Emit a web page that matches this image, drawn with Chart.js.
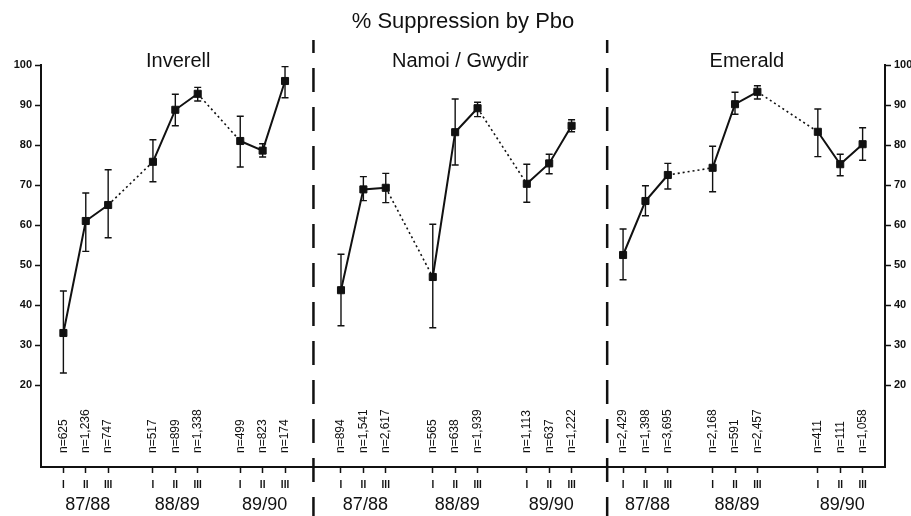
<!DOCTYPE html>
<html>
<head>
<meta charset="utf-8">
<script src="https://cdn.jsdelivr.net/npm/chart.js@4.4.0/dist/chart.umd.min.js"></script>
<style>
  body { margin: 0; background: #fff; }
  canvas { display: block; }
</style>
</head>
<body>
<canvas id="chart" width="911" height="516"></canvas>
<script>
const chartTitle = '% Suppression by Pbo';
const regions = ['Inverell', 'Namoi / Gwydir', 'Emerald'];
const seasons = ['87/88', '88/89', '89/90'];
const sampleLabels = ['I', 'II', 'III'];
const yTicks = [20, 30, 40, 50, 60, 70, 80, 90, 100];

// sampling order along the time axis (three samplings per season)
const posInverell = [1, 2, 3, 5, 6, 7, 8.9, 9.9, 10.9];
const posNamoi = [13.4, 14.4, 15.4, 17.5, 18.5, 19.5, 21.7, 22.7, 23.7];
const posEmerald = [26, 27, 28, 30, 31, 32, 34.7, 35.7, 36.7];
const regionBreaks = [12.17, 25.29];

const supInverell = [33, 61, 65, 75.8, 88.8, 92.8, 81, 78.6, 96];
const hiInverell = [43.5, 68, 73.8, 81.3, 92.7, 94.4, 87.2, 80.3, 99.6];
const loInverell = [23, 53.4, 56.8, 70.8, 84.8, 91, 74.5, 77, 91.8];
const nInverell = ['n=625', 'n=1,236', 'n=747', 'n=517', 'n=899', 'n=1,338', 'n=499', 'n=823', 'n=174'];

const supNamoi = [43.7, 68.9, 69.3, 47, 83.2, 89.2, 70.3, 75.4, 84.8];
const hiNamoi = [52.7, 72.1, 72.9, 60.2, 91.5, 90.7, 75.2, 77.7, 86.3];
const loNamoi = [34.8, 66.1, 65.6, 34.3, 75, 87.1, 65.7, 72.8, 83.3];
const nNamoi = ['n=894', 'n=1,541', 'n=2,617', 'n=565', 'n=638', 'n=1,939', 'n=1,113', 'n=637', 'n=1,222'];

const supEmerald = [52.5, 66, 72.5, 74.3, 90.2, 93.3, 83.3, 75.2, 80.2];
const hiEmerald = [59, 69.8, 75.4, 79.7, 93.2, 94.8, 89, 77.7, 84.3];
const loEmerald = [46.3, 62.3, 69, 68.3, 87.7, 91.5, 77.1, 72.3, 76.2];
const nEmerald = ['n=2,429', 'n=1,398', 'n=3,695', 'n=2,168', 'n=591', 'n=2,457', 'n=411', 'n=111', 'n=1,058'];

const ink = '#111';
const font = '"Liberation Sans", Arial, Helvetica, sans-serif';

const pack = (pos, sup, hi, lo, n) =>
  pos.map((x, i) => ({ x: x, y: sup[i], hi: hi[i], lo: lo[i], n: n[i] }));

const regionData = [
  pack(posInverell, supInverell, hiInverell, loInverell, nInverell),
  pack(posNamoi, supNamoi, hiNamoi, loNamoi, nNamoi),
  pack(posEmerald, supEmerald, hiEmerald, loEmerald, nEmerald),
];
const allPos = [...posInverell, ...posNamoi, ...posEmerald];

const makeDataset = (label, data) => ({
  label: label,
  data: data,
  borderColor: ink,
  backgroundColor: ink,
  borderWidth: 2,
  pointStyle: 'rect',
  pointRadius: 5,
  pointBorderWidth: 1,
  tension: 0,
  segment: {
    // between seasons the line is dotted
    borderDash: c => (c.p0DataIndex % 3 === 2 ? [2, 3] : undefined),
    borderWidth: c => (c.p0DataIndex % 3 === 2 ? 1.6 : 2),
  },
});

const annotate = {
  id: 'annotate',
  afterDatasetsDraw(chart) {
    const { ctx, scales: { x, y } } = chart;
    ctx.save();
    ctx.strokeStyle = ink;
    ctx.lineWidth = 1.4;
    regionData.forEach(pts => pts.forEach(p => {
      const px = x.getPixelForValue(p.x);
      const top = y.getPixelForValue(p.hi);
      const bot = y.getPixelForValue(p.lo);
      ctx.beginPath();
      ctx.moveTo(px, top); ctx.lineTo(px, bot);
      ctx.moveTo(px - 3.5, top); ctx.lineTo(px + 3.5, top);
      ctx.moveTo(px - 3.5, bot); ctx.lineTo(px + 3.5, bot);
      ctx.stroke();
    }));
    ctx.restore();
  },
  afterDraw(chart) {
    const { ctx, chartArea, scales: { x } } = chart;
    ctx.save();
    ctx.fillStyle = ink;
    ctx.textAlign = 'center';
    ctx.textBaseline = 'middle';

    ctx.font = '22px ' + font;
    ctx.fillText(chartTitle, (chartArea.left + chartArea.right) / 2, 22);

    // region names, seasons
    regionData.forEach((pts, r) => {
      const first = x.getPixelForValue(pts[0].x);
      const last = x.getPixelForValue(pts[pts.length - 1].x);
      ctx.font = '20px ' + font;
      ctx.fillText(regions[r], (first + last) / 2 + 4, 61);
      ctx.font = '18px ' + font;
      seasons.forEach((s, k) => {
        const g = pts.slice(k * 3, k * 3 + 3);
        const mid = g.reduce((a, p) => a + x.getPixelForValue(p.x), 0) / g.length;
        ctx.fillText(s, mid + 2, 505);
      });
    });

    // sample sizes, written upwards
    ctx.font = '12px ' + font;
    ctx.textAlign = 'left';
    regionData.forEach(pts => pts.forEach(p => {
      ctx.save();
      ctx.translate(x.getPixelForValue(p.x), chartArea.bottom - 14);
      ctx.rotate(-Math.PI / 2);
      ctx.fillText(p.n, 0, 0);
      ctx.restore();
    }));

    // dashed region separators
    ctx.strokeStyle = ink;
    ctx.lineWidth = 2.5;
    ctx.setLineDash([24, 15]);
    ctx.lineDashOffset = 11;
    regionBreaks.forEach(b => {
      const px = x.getPixelForValue(b);
      ctx.beginPath();
      ctx.moveTo(px, 40);
      ctx.lineTo(px, chart.height);
      ctx.stroke();
    });
    ctx.restore();
  },
};

const yAxis = (position, width) => ({
  type: 'linear',
  position: position,
  min: -0.5,
  max: 100,
  afterBuildTicks: s => { s.ticks = yTicks.map(v => ({ value: v })); },
  afterFit: s => { s.width = width; },
  grid: { drawOnChartArea: false, tickLength: 6, tickWidth: 1.5, tickColor: ink },
  border: { display: true, color: ink, width: 2 },
  ticks: { color: ink, padding: 3, font: { family: font, size: 11, weight: 'bold' } },
});

new Chart(document.getElementById('chart').getContext('2d'), {
  type: 'line',
  data: {
    datasets: regionData.map((d, i) => makeDataset(regions[i], d)),
  },
  plugins: [annotate],
  options: {
    responsive: false,
    animation: false,
    layout: { padding: { top: 65, left: 0, right: 0, bottom: 0 } },
    plugins: { legend: { display: false }, tooltip: { enabled: false } },
    scales: {
      x: {
        type: 'linear',
        min: 0,
        max: 37.7,
        afterBuildTicks: s => { s.ticks = allPos.map(v => ({ value: v })); },
        afterFit: s => { s.height = 49; },
        grid: { drawOnChartArea: false, tickLength: 6, tickWidth: 1.5, tickColor: ink },
        border: { display: true, color: ink, width: 2 },
        ticks: {
          autoSkip: false,
          maxRotation: 0,
          padding: 6,
          color: ink,
          font: { family: font, size: 10, weight: 'bold' },
          callback: (v, i) => sampleLabels[i % 3],
        },
      },
      y: yAxis('left', 41),
      y2: yAxis('right', 26),
    },
  },
});
</script>
</body>
</html>
